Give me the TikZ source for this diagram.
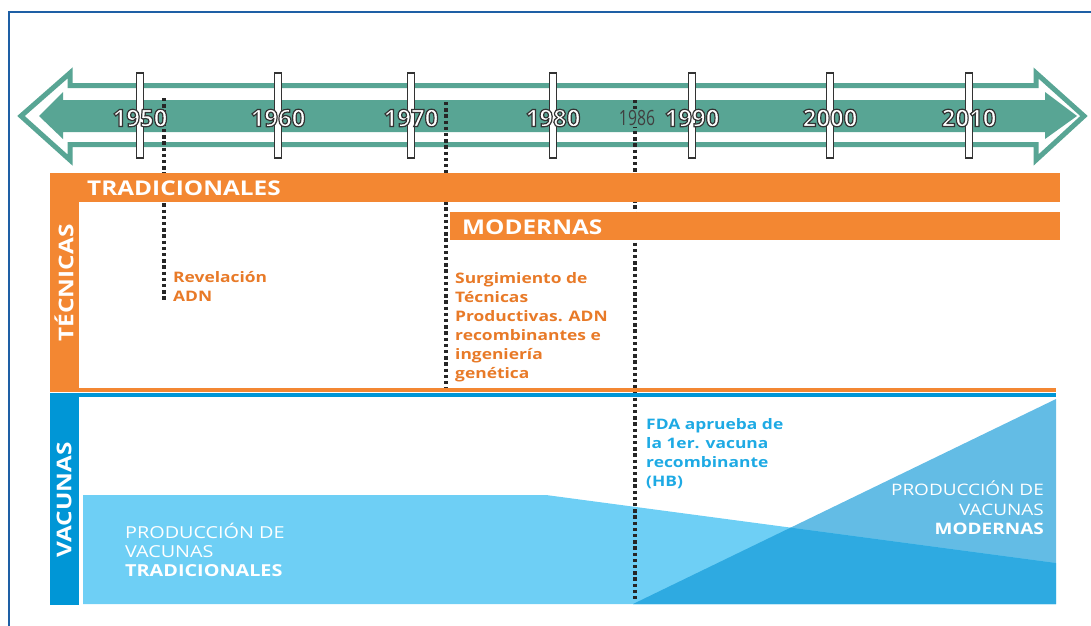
\documentclass[tikz,border=0pt]{standalone}
\usepackage{fontspec}
\setmainfont{Open Sans}[FakeStretch=1.2]
\newfontfamily\yearfont{Open Sans}
\usetikzlibrary{positioning}

\definecolor{FrameBlue}{RGB}{30,95,165}
\definecolor{Teal}{RGB}{88,165,148}
\definecolor{Naranja}{RGB}{243,135,50}
\definecolor{NaranjaTxt}{RGB}{232,122,40}
\definecolor{Azul}{RGB}{0,150,214}
\definecolor{AzulTxt}{RGB}{30,170,228}
\definecolor{Celeste}{RGB}{110,207,245}
\definecolor{AzulMed}{RGB}{99,188,229}
\definecolor{AzulOsc}{RGB}{46,170,225}

% texto blanco con contorno oscuro
\newcommand{\contorno}[1]{\special{pdf:literal direct 2 Tr 1.2 w 0.2 G}#1\special{pdf:literal direct 0 Tr}}

\begin{document}
\begin{tikzpicture}[
        x=1pt, y=-1pt,
        tick/.style={draw=black!80, fill=white, line width=1.2pt, minimum width=7pt, minimum height=85pt, inner sep=0pt},
        yearlbl/.style={text=white, inner sep=0pt, font=\yearfont\bfseries\fontsize{24}{24}\selectfont},
        dotline/.style={black!85, line width=3.6pt, dash pattern=on 3.4pt off 2.8pt},
        bartxt/.style={text=white, inner sep=0pt, font=\bfseries\fontsize{20.3}{20}\selectfont},
        notetxt/.style={inner sep=0pt, align=left, font=\bfseries\fontsize{14.5}{19}\selectfont},
        prodtxt/.style={text=white, inner sep=0pt, font=\fontsize{16.5}{19}\selectfont}
    ]
        \useasboundingbox (0,0) rectangle (1091,625);
        \draw[FrameBlue, line width=2pt] (9,640) -- (9,12) -- (1100,12);

        % flecha del tiempo
        \draw[Teal, line width=5pt, fill=white, line join=miter]
            (21,116) -- (70,73) -- (70,85.5) -- (1036,85.5) -- (1036,73) -- (1084,116)
            -- (1036,160) -- (1036,144.5) -- (70,144.5) -- (70,160) -- cycle;
        \fill[Teal] (39,116) -- (63,92) -- (63,100) -- (1045,100) -- (1045,92) -- (1077,116)
            -- (1045,139) -- (1045,132) -- (63,132) -- (63,139) -- cycle;

        \foreach \yr/\xx in {1950/140,1960/278,1970/411,1980/553,1990/692,2000/830,2010/969}
            \node[tick] (t\yr) at (\xx,115.5) {};

        % hitos
        \coordinate (adn top) at (164,98);
        \coordinate (adn bot) at (164,300);
        \coordinate (mod top) at (446,102);
        \coordinate (mod bot) at (446,390);
        \coordinate (fda top) at (635,100);
        \coordinate (fda bot) at (635,600);

        % producción de vacunas
        \fill[AzulMed] (633,604) -- (1056,399) -- (1056,604) -- cycle;
        \fill[Celeste] (83,495) -- (546,495) -- (1056,563) -- (1056,604) -- (83,604) -- cycle;
        \begin{scope}
            \clip (633,604) -- (1056,399) -- (1056,604) -- cycle;
            \fill[AzulOsc] (83,495) -- (546,495) -- (1056,563) -- (1056,604) -- (83,604) -- cycle;
        \end{scope}

        \draw[dotline] (adn top) -- (adn bot);
        \draw[dotline] (mod top) -- (mod bot);
        \draw[dotline] (fda top) -- (fda bot);

        \foreach \yr in {1950,1960,1970,1980,1990,2000,2010}
            \node[yearlbl] (y\yr) at ([yshift=-2.5pt]t\yr) {\contorno{\yr}};
        \node[fill=Teal, inner sep=1pt, text=black!75, font=\yearfont\fontsize{21}{21}\selectfont]
            (y1986) at (637,118) {\scalebox{0.75}[1]{1986}};

        % técnicas
        \fill[Naranja] (50,173) rectangle (1060,202);
        \fill[Naranja] (50,173) rectangle (79,392);
        \fill[Naranja] (50,388) rectangle (1056,392);
        \fill[Naranja] (450,212) rectangle (1060,240);
        \node[bartxt, anchor=west] (tradic) at (87,188) {TRADICIONALES};
        \node[bartxt, anchor=west] (modern) at (462,227) {MODERNAS};
        \node[bartxt, rotate=90] (tecnicas) at (64,283) {TÉCNICAS};

        % vacunas
        \fill[Azul] (50,393) rectangle (79,605);
        \fill[Azul] (50,393) rectangle (1056,397);
        \node[bartxt, rotate=90] (vacunas) at (64,500) {VACUNAS};

        \node[notetxt, text=NaranjaTxt, anchor=north west] (revel) at (173,271) {Revelación\\ADN};
        \node[notetxt, text=NaranjaTxt, anchor=north west] (surg) at (455,272)
            {Surgimiento de\\Técnicas\\Productivas. ADN\\recombinantes e\\ingeniería\\genética};
        \node[notetxt, text=AzulTxt, anchor=north west] (fda) at (646,418)
            {FDA aprueba de\\la 1er. vacuna\\recombinante\\(HB)};

        \node[prodtxt, anchor=north west, align=left] (prodtrad) at (125,523)
            {PRODUCCIÓN DE\\VACUNAS\\\textbf{TRADICIONALES}};
        \node[prodtxt, anchor=north east, align=right, font=\fontsize{15.8}{19.5}\selectfont]
            (prodmod) at (1044,481) {PRODUCCIÓN DE\\VACUNAS\\\textbf{MODERNAS}};
    \end{tikzpicture}
\end{document}
